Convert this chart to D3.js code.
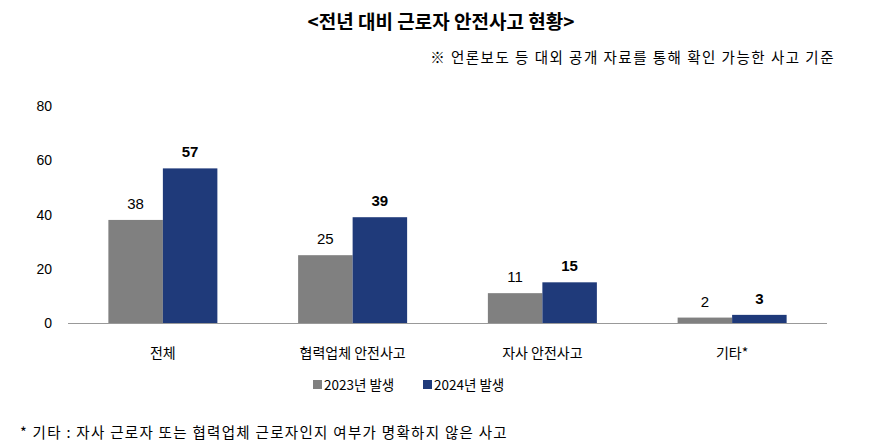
<!DOCTYPE html><html><head><meta charset="utf-8"><script src="https://cdn.jsdelivr.net/npm/d3@7"></script>
<style>body{margin:0;background:#fff;font-family:"Noto Sans CJK KR","Noto Sans",sans-serif}</style></head><body><svg id="c" width="883" height="444"></svg>
<script>
const categories=["전체","협력업체 안전사고","자사 안전사고","기타*"];
const s2023=[38,25,11,2];
const s2024=[57,39,15,3];
const seriesNames=["2023년 발생","2024년 발생"];
const yTicks=[0,20,40,60,80];
const colors=["#808080","#1f3a7a"];
const svg=d3.select("#c");
const x=d3.scaleBand().domain(categories).range([68,827]);
const y=d3.scaleLinear().domain([0,80]).range([323,106]);
const bw=54.5;
svg.append("text").attr("x",441).attr("y",29).attr("text-anchor","middle").attr("font-size",19).attr("font-weight","bold").text("<전년 대비 근로자 안전사고 현황>");
svg.append("text").attr("x",835).attr("y",63).attr("text-anchor","end").attr("font-size",14.5).attr("letter-spacing","1.5").text("※ 언론보도 등 대외 공개 자료를 통해 확인 가능한 사고 기준");
svg.append("g").selectAll("text").data(yTicks).join("text").attr("x",52).attr("y",d=>y(d)+5).attr("text-anchor","end").attr("font-size",14).attr("font-family","Liberation Sans, sans-serif").text(d=>d);
svg.append("line").attr("x1",68).attr("x2",827).attr("y1",323.5).attr("y2",323.5).attr("stroke","#999");
[s2023,s2024].forEach((s,si)=>{
 const g=svg.append("g");
 g.selectAll("rect").data(categories).join("rect").attr("x",c=>x(c)+x.bandwidth()/2-bw+si*bw).attr("width",bw).attr("y",(c,i)=>y(s[i])).attr("height",(c,i)=>y(0)-y(s[i])).attr("fill",colors[si]);
 g.selectAll("text").data(categories).join("text").attr("x",c=>x(c)+x.bandwidth()/2-bw/2+si*bw).attr("y",(c,i)=>y(s[i])-11).attr("text-anchor","middle").attr("font-size",15).attr("font-family","Liberation Sans, sans-serif").attr("font-weight",si?"bold":"normal").text((c,i)=>s[i]);
});
svg.append("g").selectAll("text").data(categories).join("text").attr("x",c=>x(c)+x.bandwidth()/2).attr("y",358).attr("text-anchor","middle").attr("font-size",14).text(c=>c);
const lg=svg.append("g");
[[313,0],[423,1]].forEach(([lx,i])=>{lg.append("rect").attr("x",lx).attr("y",380).attr("width",9).attr("height",9).attr("fill",colors[i]);
lg.append("text").attr("x",lx+11).attr("y",390).attr("font-size",13.5).text(seriesNames[i]);});
svg.append("text").attr("x",20).attr("y",438).attr("font-size",14.5).attr("letter-spacing","1.3").text("* 기타 : 자사 근로자 또는 협력업체 근로자인지 여부가 명확하지 않은 사고");
</script></body></html>
